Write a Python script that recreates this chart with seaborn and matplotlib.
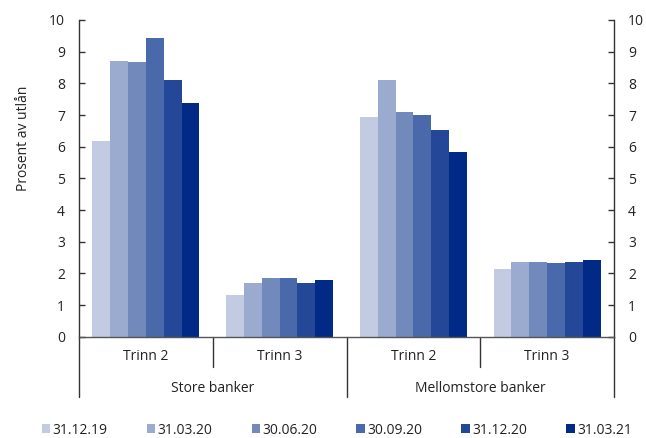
import matplotlib
matplotlib.use("Agg")
import matplotlib.pyplot as plt
import matplotlib.transforms as mtransforms
from matplotlib.patches import Patch
import pandas as pd
import seaborn as sns

# Loss-stage categories (bank group, stage) and reporting dates
groups = ["Store banker", "Mellomstore banker"]
stages = ["Trinn 2", "Trinn 3", "Trinn 2", "Trinn 3"]
dates = ["31.12.19", "31.03.20", "30.06.20", "30.09.20", "31.12.20", "31.03.21"]

# Share of loans (percent), one list per date, in the order of `stages`
v_311219 = [6.19, 1.32, 6.95, 2.15]
v_310320 = [8.71, 1.69, 8.09, 2.36]
v_300620 = [8.66, 1.85, 7.09, 2.35]
v_300920 = [9.42, 1.86, 7.01, 2.34]
v_311220 = [8.09, 1.68, 6.52, 2.36]
v_310321 = [7.38, 1.79, 5.84, 2.43]

colors = ["#c2cbe2", "#9aabcf", "#7289bb", "#4a69aa", "#244897", "#002a85"]

series = [v_311219, v_310320, v_300620, v_300920, v_311220, v_310321]
cat_ids = ["c0", "c1", "c2", "c3"]
rows = []
for d, vals in zip(dates, series):
    for cid, v in zip(cat_ids, vals):
        rows.append({"kategori": cid, "dato": d, "verdi": v})
df = pd.DataFrame(rows)

sns.set_style("white")
plt.rcParams["font.family"] = ["Open Sans", "DejaVu Sans"]
plt.rcParams["font.size"] = 10

W, H = 646, 438
fig = plt.figure(figsize=(W / 100, H / 100), dpi=100)
ax = fig.add_axes([79 / W, 1 - 336.7 / H, (614 - 79) / W, (336.7 - 20) / H])

sns.barplot(data=df, x="kategori", y="verdi", hue="dato", order=cat_ids,
            hue_order=dates, palette=colors, width=0.8, ax=ax,
            linewidth=0, errorbar=None, legend=False, saturation=1)

ax.set_xlim(-0.5, 3.5)
ax.set_ylim(0, 10)
ax.set_yticks(range(0, 11))
ax.set_xticks([])
ax.set_xlabel("")
ax.set_ylabel("")
ax.tick_params(axis="y", which="both", left=True, right=True,
               labelleft=True, labelright=True, direction="in",
               length=4, width=1, color="#333333", labelsize=10,
               labelcolor="#222222", pad=10)
for s in ["left", "right", "bottom"]:
    ax.spines[s].set_visible(True)
    ax.spines[s].set_color("#333333")
    ax.spines[s].set_linewidth(1)
ax.spines["bottom"].set_color("#555555")
ax.spines["top"].set_visible(False)

# Category axis: separators and two-level labels below the plot
trans = mtransforms.blended_transform_factory(ax.transData, fig.transFigure)
y0 = 1 - 336.7 / H
y_short = 1 - 367 / H
y_long = 1 - 397 / H
for x in [-0.5, 1.5, 3.5]:
    ax.plot([x, x], [y0, y_long], transform=trans, color="#333333",
            lw=1, clip_on=False)
for x in [0.5, 2.5]:
    ax.plot([x, x], [y0, y_short], transform=trans, color="#333333",
            lw=1, clip_on=False)
for i, s in enumerate(stages):
    ax.text(i, 1 - 357 / H, s, transform=trans, ha="center", va="center",
            fontsize=10, color="#222222")
for i, g in enumerate(groups):
    ax.text(2 * i + 0.5, 1 - 388 / H, g, transform=trans, ha="center",
            va="center", fontsize=10, color="#222222")

fig.text(24 / W, 1 - 138 / H, "Prosent av utlån", rotation=90,
         ha="center", va="center", fontsize=10, color="#222222")

handles = [Patch(facecolor=c, edgecolor="none") for c in colors]
fig.legend(handles, dates, loc="center",
           bbox_to_anchor=(337 / W, 1 - 430 / H),
           ncol=6, frameon=False, fontsize=10, handlelength=0.6,
           handleheight=0.6, handletextpad=0.2, columnspacing=2.8,
           labelcolor="#222222")

fig.savefig("out.png", dpi=100)
